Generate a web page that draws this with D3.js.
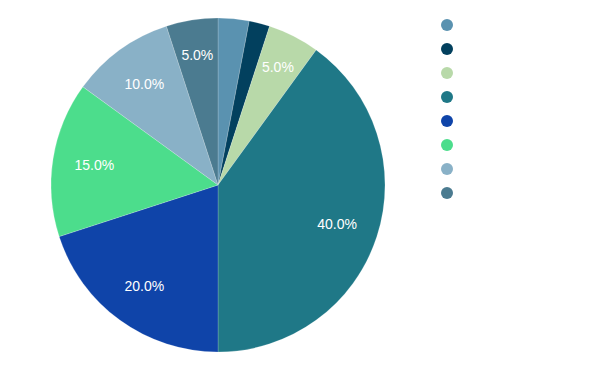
<!DOCTYPE html>
<meta charset="utf-8">
<style>
body { margin: 0; background: #fff; }
.labels text {
  fill: #fff;
  font-family: "Liberation Sans", Arial, sans-serif;
  font-size: 14px;
}
</style>
<svg width="600" height="371"></svg>
<script src="https://d3js.org/d3.v7.min.js"></script>
<script>

  // slice data, clockwise from 12 o'clock
  var categories = ["A", "B", "C", "D", "E", "F", "G", "H"];
  var values = [3, 2, 5, 40, 20, 15, 10, 5];
  var colors = ["#5a92b0", "#02405e", "#b8d9a9", "#1f7887", "#0f44a9", "#4cdd8c", "#89b1c7", "#4b7b90"];

  var svg = d3.select("svg"),
      cx = 218, cy = 185, radius = 167;

  var color = d3.scaleOrdinal().domain(categories).range(colors);
  var total = d3.sum(values);

  var data = categories.map(function(c, i) { return {name: c, value: values[i]}; });

  var pie = d3.pie()
      .sort(null)
      .value(function(d) { return d.value; });

  var arc = d3.arc().innerRadius(0).outerRadius(radius);
  // narrow slices get their label pushed a bit further out
  function labelPos(d) {
    var r = (d.data.value / total) < 0.1 ? radius * 0.79 : radius * 0.75;
    return d3.arc().innerRadius(r).outerRadius(r).centroid(d);
  }

  var g = svg.append("g").attr("transform", "translate(" + cx + "," + cy + ")");

  var arcs = pie(data);

  g.append("g")
      .selectAll("path")
      .data(arcs)
      .enter().append("path")
      .attr("d", arc)
      .attr("fill", function(d) { return color(d.data.name); })
      .attr("stroke", "#fff")
      .attr("stroke-opacity", 0.3)
      .attr("stroke-width", 0.6);

  g.append("g")
      .attr("class", "labels")
      .selectAll("text")
      .data(arcs.filter(function(d) { return d.data.value / total >= 0.05; }))
      .enter().append("text")
      .attr("transform", function(d) { return "translate(" + labelPos(d) + ")"; })
      .attr("text-anchor", "middle")
      .attr("dy", "0.35em")
      .text(function(d) { return d3.format(".1%")(d.data.value / total); });

  // legend: markers only
  var legend = svg.append("g").attr("transform", "translate(447,25)");
  legend.selectAll("circle")
      .data(categories)
      .enter().append("circle")
      .attr("cx", 0)
      .attr("cy", function(d, i) { return i * 24; })
      .attr("r", 6)
      .attr("fill", function(d) { return color(d); });

</script>
